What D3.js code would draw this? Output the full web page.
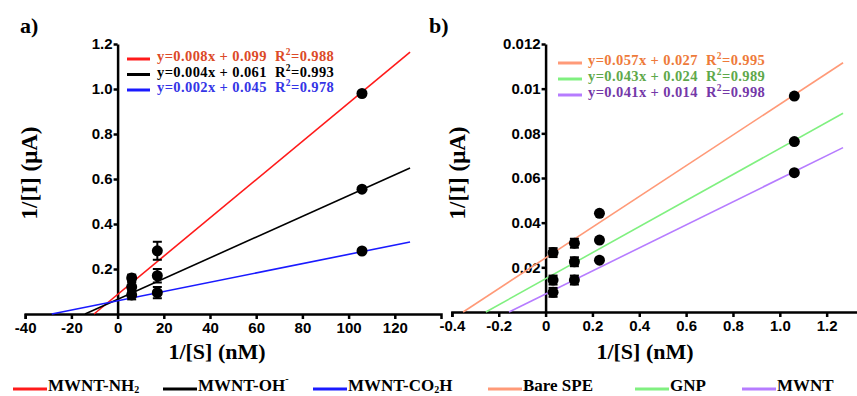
<!DOCTYPE html>
<html>
<head>
<meta charset="utf-8">
<script src="https://cdn.jsdelivr.net/npm/d3@7"></script>
<style>
  body { margin: 0; background: #fff; }
  svg { display: block; }
</style>
</head>
<body>
<svg width="857" height="396"></svg>
<script>
const width = 857;
const height = 396;
const SERIF = "'Liberation Serif', 'Times New Roman', serif";
const SANS = "'Liberation Sans', Arial, sans-serif";

// ---- panel a data ----
const aTicksX = [-40, -20, 0, 20, 40, 60, 80, 100, 120];
const aTickLabelsX = ["-40", "-20", "0", "20", "40", "60", "80", "100", "120"];
const aTicksY = [0.2, 0.4, 0.6, 0.8, 1.0, 1.2];
const aTickLabelsY = ["0.2", "0.4", "0.6", "0.8", "1.0", "1.2"];

const aX = [6.1, 17.2, 105.8];
const aNH2 = [0.16, 0.281, 0.98];
const aNH2Err = [0.015, 0.04, 0];
const aOH = [0.12, 0.17, 0.555];
const aOHErr = [0.02, 0.03, 0];
const aCO2H = [0.085, 0.095, 0.28];
const aCO2HErr = [0.02, 0.025, 0];

// fitted lines, end points
const aFitNH2 = [[-10.2, 0], [126.6, 1.164]];
const aFitOH = [[-14.1, 0], [126.6, 0.649]];
const aFitCO2H = [[-28.5, 0], [126.6, 0.32]];

const aEquations = ["y=0.008x + 0.099", "y=0.004x + 0.061", "y=0.002x + 0.045"];
const aR2 = ["=0.988", "=0.993", "=0.978"];

// ---- panel b data ----
const bTicksX = [-0.4, -0.2, 0, 0.2, 0.4, 0.6, 0.8, 1.0, 1.2];
const bTickLabelsX = ["-0.4", "-0.2", "0", "0.2", "0.4", "0.6", "0.8", "1.0", "1.2"];
const bTicksY = [0.02, 0.04, 0.06, 0.08, 0.10, 0.12];
const bTickLabelsY = ["0.02", "0.04", "0.06", "0.08", "0.01", "0.012"];

const bX = [0.032, 0.123, 0.23, 1.062];
const bBare = [0.0266, 0.0308, 0.0442, 0.0967];
const bBareErr = [0.002, 0.002, 0, 0];
const bGNP = [0.0143, 0.0225, 0.0322, 0.0763];
const bGNPErr = [0.002, 0.002, 0, 0];
const bMWNT = [0.0088, 0.0143, 0.0232, 0.0624];
const bMWNTErr = [0.002, 0.002, 0, 0];

const bFitBare = [[-0.352, 0], [1.27, 0.1116]];
const bFitGNP = [[-0.255, 0], [1.27, 0.089]];
const bFitMWNT = [[-0.156, 0], [1.27, 0.0736]];

const bEquations = ["y=0.057x + 0.027", "y=0.043x + 0.024", "y=0.041x + 0.014"];
const bR2 = ["=0.995", "=0.989", "=0.998"];

// bottom legend
const legendNames = ["MWNT-NH", "MWNT-OH", "MWNT-CO", "Bare SPE", "GNP", "MWNT"];

const svg = d3.select("svg");

const panels = [
  {
    label: "a)", labelX: 20,
    x: d3.scaleLinear().domain([-40, 140]).range([25.2, 441]),
    y: d3.scaleLinear().domain([0, 1.2]).range([314, 44]),
    ticksX: aTicksX, labelsX: aTickLabelsX, ticksY: aTicksY, labelsY: aTickLabelsY,
    titleX: 217, titleY: 29,
    series: [
      { vals: aNH2, err: aNH2Err, fit: aFitNH2, line: "#ff1a1a", text: "#dc4a28" },
      { vals: aOH, err: aOHErr, fit: aFitOH, line: "#000000", text: "#000000" },
      { vals: aCO2H, err: aCO2HErr, fit: aFitCO2H, line: "#1a1aff", text: "#3434e6" }
    ],
    xs: aX, eq: aEquations, r2: aR2,
    eqLine: [127, 150], eqText: 157, eqRows: [61, 76.5, 92]
  },
  {
    label: "b)", labelX: 429,
    x: d3.scaleLinear().domain([-0.4, 1.4]).range([451.9, 873.5]),
    y: d3.scaleLinear().domain([0, 0.12]).range([312, 44]),
    ticksX: bTicksX, labelsX: bTickLabelsX, ticksY: bTicksY, labelsY: bTickLabelsY,
    titleX: 645, titleY: 457,
    series: [
      { vals: bBare, err: bBareErr, fit: bFitBare, line: "#ff9a78", text: "#ee7a3a" },
      { vals: bGNP, err: bGNPErr, fit: bFitGNP, line: "#80f080", text: "#5ea84a" },
      { vals: bMWNT, err: bMWNTErr, fit: bFitMWNT, line: "#b67cff", text: "#7438a8" }
    ],
    xs: bX, eq: bEquations, r2: bR2,
    eqLine: [558, 582], eqText: 588, eqRows: [65, 81, 97]
  }
];

panels.forEach(p => {
  const g = svg.append("g");
  const x0 = p.x(0);
  const y0 = p.y(0);

  // axes
  const xAxis = d3.axisBottom(p.x)
    .tickValues(p.ticksX)
    .tickFormat((d, i) => p.labelsX[i])
    .tickSize(5).tickSizeOuter(5).tickPadding(3);
  g.append("g")
    .attr("transform", `translate(0,${y0})`)
    .call(xAxis);

  const yAxis = d3.axisLeft(p.y)
    .tickValues(p.ticksY)
    .tickFormat((d, i) => p.labelsY[i])
    .tickSize(4).tickSizeOuter(0).tickPadding(1);
  g.append("g")
    .attr("transform", `translate(${x0},0)`)
    .call(yAxis);

  g.selectAll(".domain, .tick line")
    .attr("stroke", "#000")
    .attr("stroke-width", 2.5);
  g.selectAll(".tick text")
    .style("font-family", SANS)
    .style("font-weight", "bold")
    .style("font-size", "15px")
    .attr("fill", "#000");

  // fit lines
  const line = d3.line().x(d => p.x(d[0])).y(d => p.y(d[1]));
  p.series.forEach(s => {
    g.append("path")
      .attr("d", line(s.fit))
      .attr("fill", "none")
      .attr("stroke", s.line)
      .attr("stroke-width", 1.6);
  });

  // error bars + points
  p.series.forEach(s => {
    s.vals.forEach((v, i) => {
      const cx = p.x(p.xs[i]);
      const e = s.err[i];
      if (e > 0) {
        const top = p.y(v + e), bot = p.y(v - e);
        g.append("line").attr("x1", cx).attr("x2", cx).attr("y1", top).attr("y2", bot)
          .attr("stroke", "#000").attr("stroke-width", 2);
        [top, bot].forEach(yy => {
          g.append("line").attr("x1", cx - 4.5).attr("x2", cx + 4.5).attr("y1", yy).attr("y2", yy)
            .attr("stroke", "#000").attr("stroke-width", 2);
        });
      }
      g.append("circle")
        .attr("cx", cx)
        .attr("cy", p.y(v))
        .attr("r", 5.5)
        .attr("fill", "#000");
    });
  });

  // equations legend
  p.series.forEach((s, i) => {
    const yy = p.eqRows[i];
    g.append("line")
      .attr("x1", p.eqLine[0]).attr("x2", p.eqLine[1])
      .attr("y1", yy - 2).attr("y2", yy - 2)
      .attr("stroke", s.line).attr("stroke-width", 3);
    const t = g.append("text")
      .attr("x", p.eqText).attr("y", yy)
      .attr("fill", s.text)
      .style("font-family", SERIF)
      .style("font-weight", "bold")
      .style("font-size", "14.5px")
      .style("letter-spacing", "0.4px");
    t.append("tspan").text(p.eq[i]);
    t.append("tspan").attr("dx", 8).text("R");
    t.append("tspan").attr("dy", -6).style("font-size", "9.5px").text("2");
    t.append("tspan").attr("dy", 6).text(p.r2[i]);
  });

  // axis titles
  g.append("text")
    .attr("x", p.titleX).attr("y", 359)
    .attr("text-anchor", "middle")
    .style("font-family", SERIF)
    .style("font-weight", "bold")
    .style("font-size", "22px")
    .text("1/[S] (nM)");

  g.append("text")
    .attr("transform", `translate(${p.titleY + 8},173) rotate(-90)`)
    .attr("text-anchor", "middle")
    .style("font-family", SERIF)
    .style("font-weight", "bold")
    .style("font-size", "23px")
    .text("1/[I] (μA)");

  g.append("text")
    .attr("x", p.labelX).attr("y", 33)
    .style("font-family", SERIF)
    .style("font-weight", "bold")
    .style("font-size", "22px")
    .text(p.label);
});

// bottom legend
const legendColors = ["#ff1a1a", "#000000", "#1a1aff", "#ff9a78", "#80f080", "#b67cff"];
const legendX = [13, 163, 313, 488, 635, 742];
const legend = svg.append("g");
legendNames.forEach((name, i) => {
  const lx = legendX[i];
  legend.append("line")
    .attr("x1", lx).attr("x2", lx + 34)
    .attr("y1", 389).attr("y2", 389)
    .attr("stroke", legendColors[i]).attr("stroke-width", 3);
  const t = legend.append("text")
    .attr("x", lx + 35).attr("y", 391)
    .style("font-family", SERIF)
    .style("font-weight", "bold")
    .style("font-size", "17px");
  t.append("tspan").text(name);
  if (i === 0) {
    t.append("tspan").attr("dy", 2).style("font-size", "10px").text("2");
  } else if (i === 1) {
    t.append("tspan").attr("dy", -9).style("font-size", "10px").text("-");
  } else if (i === 2) {
    t.append("tspan").attr("dy", 2).style("font-size", "10px").text("2");
    t.append("tspan").attr("dy", -2).text("H");
  }
});
</script>
</body>
</html>
